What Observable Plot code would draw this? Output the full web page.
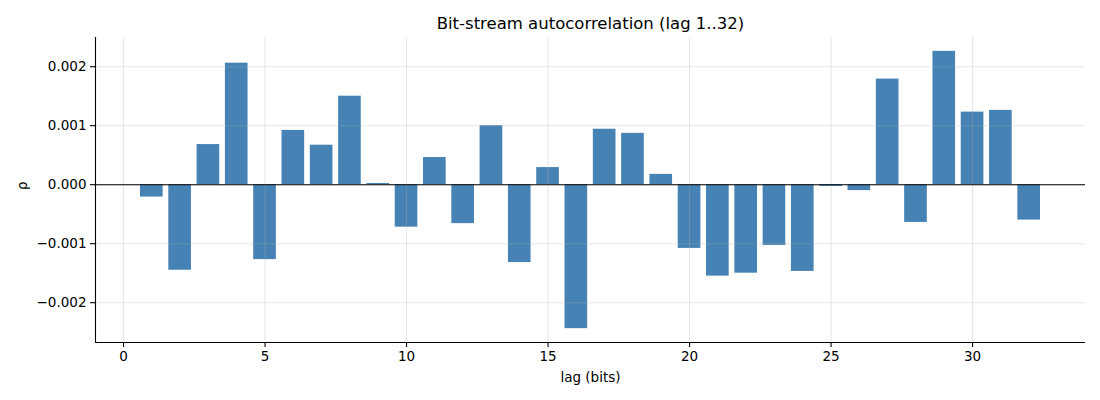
<!DOCTYPE html>
<html>
<head>
<meta charset="utf-8">
<script src="https://cdn.jsdelivr.net/npm/d3@7"></script>
<script src="https://cdn.jsdelivr.net/npm/@observablehq/plot@0.6"></script>
<style>
  body { margin: 0; background: #fff; }
  svg { display: block; }
</style>
</head>
<body>
<div id="chart"></div>
<script>
const lags = d3.range(1, 33);
const rho = [
  -0.00021, -0.00145, 0.00068, 0.00206, -0.00127, 0.00092, 0.00067, 0.00150,
  0.00002, -0.00072, 0.00046, -0.00066, 0.00100, -0.00132, 0.00029, -0.00244,
  0.00094, 0.00087, 0.000175, -0.00108, -0.00155, -0.00150, -0.00103, -0.00147,
  -0.00003, -0.00010, 0.00179, -0.00064, 0.00226, 0.00123, 0.00126, -0.00060
];
const xTicks = [0, 5, 10, 15, 20, 25, 30];
const yTicks = [-0.002, -0.001, 0, 0.001, 0.002];
const title = "Bit-stream autocorrelation (lag 1..32)";
const xLabel = "lag (bits)";
const yLabel = "ρ";

const data = lags.map((l, i) => ({lag: l, rho: rho[i]}));
const barW = 0.8;

// matplotlib-style 5% margins
const xmin = d3.min(lags) - barW / 2, xmax = d3.max(lags) + barW / 2;
const xpad = (xmax - xmin) * 0.05;
const ymin = Math.min(0, d3.min(rho)), ymax = Math.max(0, d3.max(rho));
const ypad = (ymax - ymin) * 0.05;
const xDom = [xmin - xpad, xmax + xpad];
const yDom = [ymin - ypad, ymax + ypad];

const font = "DejaVu Sans, sans-serif";

const plot = Plot.plot({
  width: 1100,
  height: 400,
  marginLeft: 95,
  marginRight: 15,
  marginTop: 37,
  marginBottom: 58,
  style: {fontFamily: font, fontSize: "13.5px", color: "#000", background: "#fff"},
  x: {domain: xDom, label: null},
  y: {domain: yDom, label: null},
  marks: [
    Plot.rectY(data, {
      x1: d => d.lag - barW / 2,
      x2: d => d.lag + barW / 2,
      y1: 0,
      y2: "rho",
      fill: "#4682b4"
    }),
    Plot.gridX(xTicks, {stroke: "#b0b0b0", strokeOpacity: 0.3, strokeWidth: 1.1}),
    Plot.gridY(yTicks, {stroke: "#b0b0b0", strokeOpacity: 0.3, strokeWidth: 1.1}),
    Plot.ruleY([0], {stroke: "#000", strokeWidth: 1.1}),
    Plot.ruleX([xDom[0]], {y1: yDom[0], y2: yDom[1], stroke: "#000", strokeWidth: 1.1}),
    Plot.ruleY([yDom[0]], {x1: xDom[0], x2: xDom[1], stroke: "#000", strokeWidth: 1.1}),
    Plot.axisX(xTicks, {tickSize: 5, tickPadding: 4, tickFormat: d => String(d), fontSize: 13.5, label: null, strokeWidth: 1.1}),
    Plot.axisY(yTicks, {tickSize: 5, tickPadding: 4, tickFormat: d3.format(".3f"), fontSize: 13.5, label: null, strokeWidth: 1.1}),
    Plot.text([title], {frameAnchor: "top", dy: -14, lineAnchor: "middle", fontSize: 16.5, fill: "#000"}),
    Plot.text([xLabel], {frameAnchor: "bottom", dy: 35, lineAnchor: "middle", fontSize: 13.5, fill: "#000"}),
    Plot.text([yLabel], {frameAnchor: "left", dx: -73, rotate: -90, lineAnchor: "middle", fontSize: 13.5, fill: "#000"})
  ]
});
document.getElementById("chart").appendChild(plot);
</script>
</body>
</html>
